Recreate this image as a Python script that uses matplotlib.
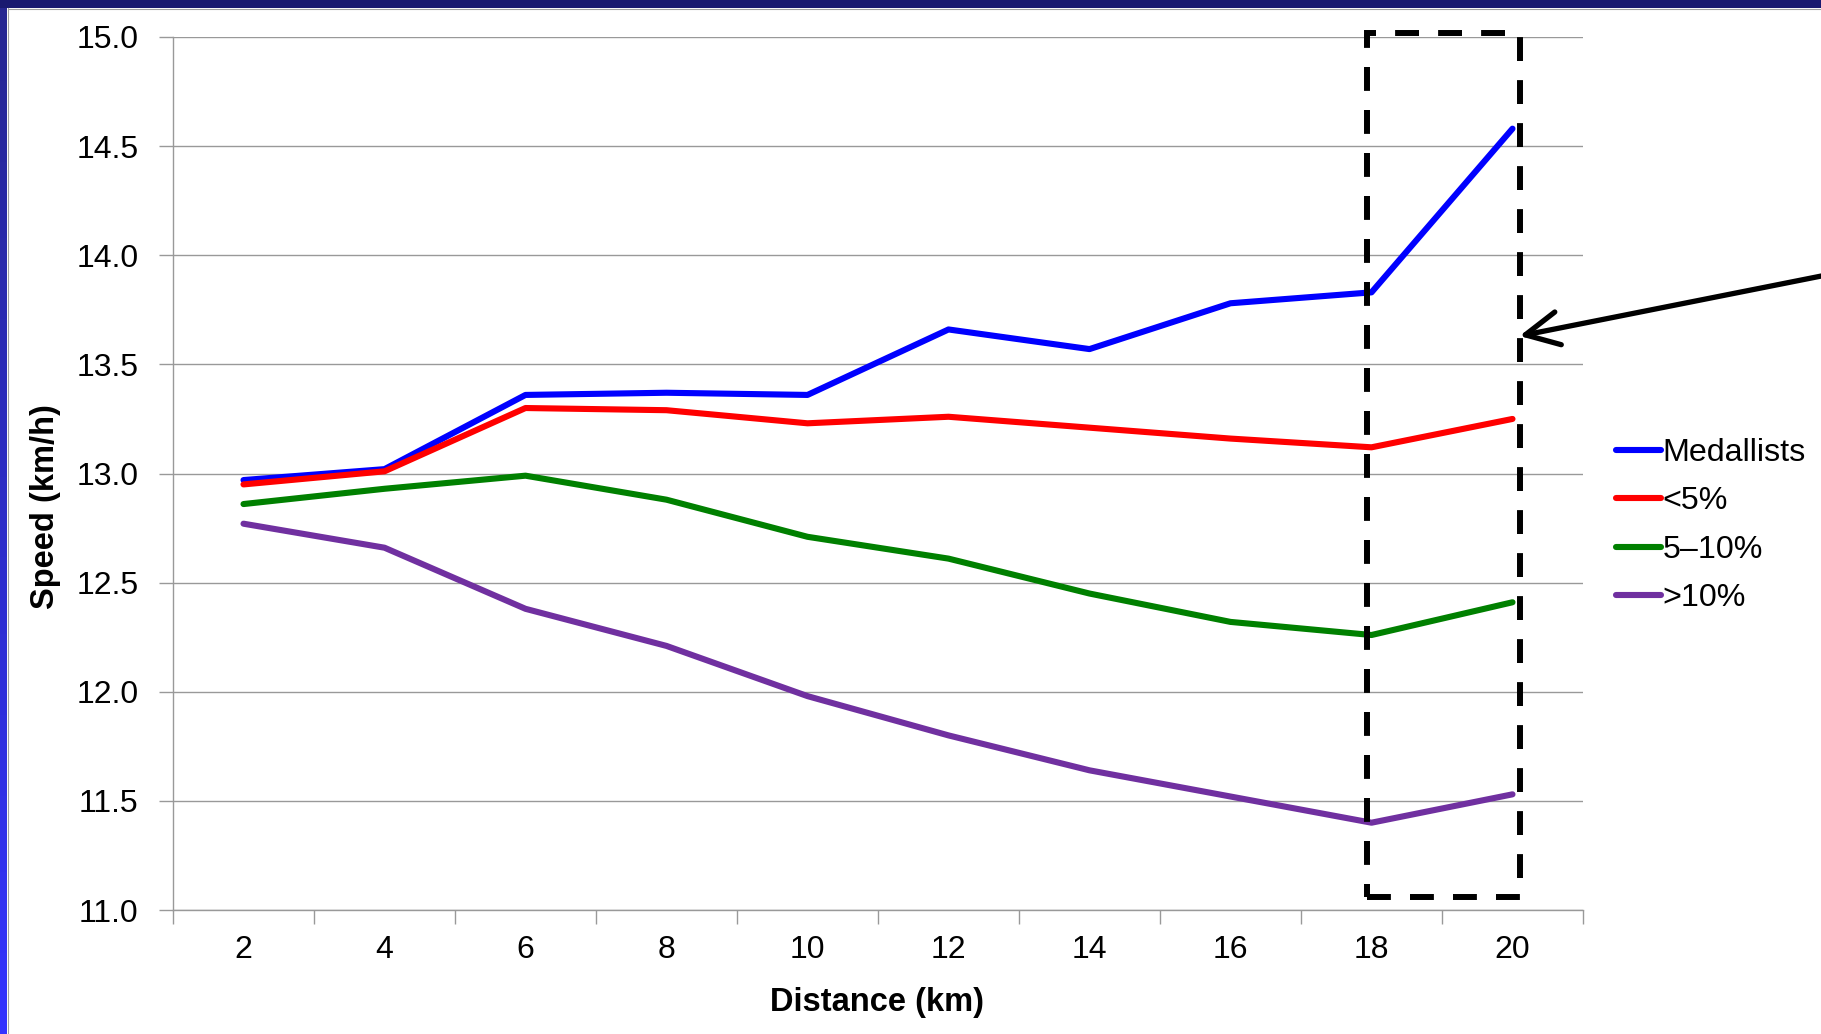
import numpy as np
import matplotlib
matplotlib.use("Agg")
import matplotlib.pyplot as plt
from matplotlib.patches import Rectangle
from matplotlib.colors import LinearSegmentedColormap

plt.rcParams['font.family'] = ['Liberation Sans', 'DejaVu Sans']

distance = [2, 4, 6, 8, 10, 12, 14, 16, 18, 20]
medallists = [12.97, 13.02, 13.36, 13.37, 13.36, 13.66, 13.57, 13.78, 13.83, 14.58]
under5 = [12.95, 13.01, 13.30, 13.29, 13.23, 13.26, 13.21, 13.16, 13.12, 13.25]
five_to_ten = [12.86, 12.93, 12.99, 12.88, 12.71, 12.61, 12.45, 12.32, 12.26, 12.41]
over10 = [12.77, 12.66, 12.38, 12.21, 11.98, 11.80, 11.64, 11.52, 11.40, 11.53]
series_labels = ['Medallists', '<5%', '5\u201310%', '>10%']
series_colors = ['#0000ff', '#ff0000', '#008000', '#7030a0']
y_ticks = [11.0, 11.5, 12.0, 12.5, 13.0, 13.5, 14.0, 14.5, 15.0]

W, H = 1821, 1034
fig = plt.figure(figsize=(W / 100, H / 100), dpi=100)
fig.patch.set_facecolor('white')

# background frame (left gradient band, top navy band)
bg = fig.add_axes([0, 0, 1, 1], zorder=-10)
bg.axis('off')
grad = np.linspace(0, 1, 256).reshape(-1, 1)
cm = LinearSegmentedColormap.from_list('b', ['#262690', '#3333ff'])
bg.imshow(grad, cmap=cm, extent=(0, 7, H, 0), aspect='auto')
bg.add_patch(Rectangle((0, 0), W, 8, color='#191970', lw=0))
bg.plot([7.5, 7.5], [8, H], color='#a0a0a0', lw=0.8)
bg.plot([7.5, W], [8.5, 8.5], color='#a0a0a0', lw=0.8)
bg.set_xlim(0, W)
bg.set_ylim(H, 0)

ax = fig.add_axes([173 / W, 1 - 910 / H, (1583 - 173) / W, (910 - 37) / H])
x = np.arange(len(distance))
lines = []
for vals, lab, col in zip([medallists, under5, five_to_ten, over10], series_labels, series_colors):
    ln, = ax.plot(x, vals, color=col, lw=4.4, label=lab, solid_capstyle='round',
                  solid_joinstyle='round', zorder=3)
    lines.append(ln)

ax.set_xlim(-0.5, len(distance) - 0.5)
ax.set_ylim(11.0, 15.0)
ax.set_yticks(y_ticks)
ax.set_yticklabels([f'{v:.1f}' for v in y_ticks])
ax.set_xticks(x)
ax.set_xticklabels([str(d) for d in distance])
ax.set_xticks(np.arange(-0.5, len(distance)), minor=True)
ax.tick_params(axis='x', which='major', length=0, pad=18, labelsize=23)
ax.tick_params(axis='x', which='minor', length=10, width=1, color='#999999', direction='out')
ax.tick_params(axis='y', which='major', length=10, width=1, color='#999999', pad=15, labelsize=23)
ax.grid(axis='y', color='#999999', lw=1)
ax.set_axisbelow(True)
for s in ['top', 'right']:
    ax.spines[s].set_visible(False)
for s in ['left', 'bottom']:
    ax.spines[s].set_color('#999999')
    ax.spines[s].set_linewidth(1)

# dashed highlight box around the last two points
i18 = distance.index(18)
i20 = distance.index(20)
box = Rectangle((i18 - 0.03, 11.06), (i20 - i18) + 0.08, 3.96, fill=False,
                edgecolor='black', lw=4.3, linestyle=(0, (4, 3.2)), clip_on=False, zorder=4)
ax.add_patch(box)

# arrow pointing to the box
ax.annotate('', xy=(i20 + 0.05, 13.63), xycoords='data',
            xytext=(1.003, 1 - 275 / H), textcoords='figure fraction',
            arrowprops=dict(arrowstyle='->,head_length=2.4,head_width=1.2', lw=3.8,
                            color='black', shrinkA=0, shrinkB=0),
            annotation_clip=False)

fig.legend(handles=lines, labels=series_labels, loc='upper left',
           bbox_to_anchor=(1600 / W, 1 - 422 / H), frameon=False, fontsize=23.2,
           handlelength=1.4, handletextpad=0.05, labelspacing=0.57, borderpad=0)

fig.text(46 / W, 1 - 507 / H, 'Speed (km/h)', rotation=90, ha='center', va='center',
         fontsize=23.5, fontweight='bold')
fig.text(877 / W, 1 - 1002 / H, 'Distance (km)', ha='center', va='center',
         fontsize=23.5, fontweight='bold')

fig.savefig('out.png', dpi=100, facecolor='white')
